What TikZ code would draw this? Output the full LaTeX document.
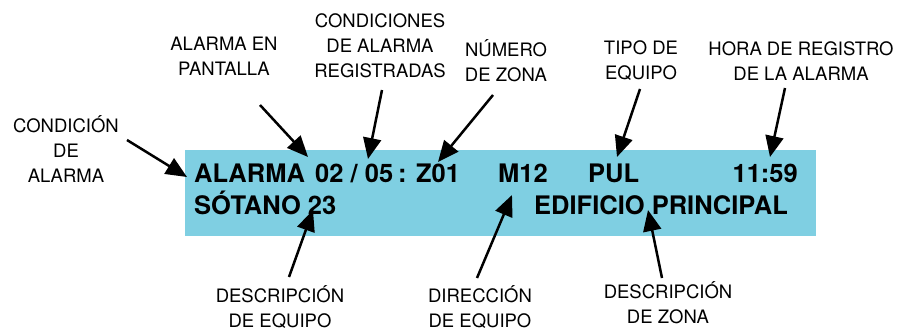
\documentclass[tikz,border=0pt]{standalone}
\usepackage{fontspec}
\setmainfont{TeX Gyre Heros}
\usetikzlibrary{arrows.meta}
\definecolor{lcdazul}{RGB}{127,207,226}
\tikzset{
  etiqueta/.style={align=center, inner sep=0pt, font=\fontsize{18.5}{25}\selectfont},
  lcd/.style={anchor=base west, inner sep=0pt, font=\fontsize{25.5}{30}\selectfont\bfseries},
  flecha/.style={-{Triangle[length=21pt,width=18pt]}, line width=2.5pt}
}
\begin{document}
\begin{tikzpicture}[x=1pt,y=-1pt]
\useasboundingbox (0,0) rectangle (915,332);
% pantalla
\node[fill=lcdazul, minimum width=631pt, minimum height=86pt, inner sep=0pt] (display) at (500.5,193) {};
\node[lcd] (alarma) at (194,182) {ALARMA};
\node[lcd] (contador) at (315,182) {02 / 05\kern5pt: Z01};
\node[lcd] (direccion) at (498,182) {M12};
\node[lcd] (tipo) at (588,182) {PUL};
\node[lcd, anchor=base east] (hora) at (798,182) {11:59};
\node[lcd] (sotano) at (194,214) {SÓTANO 23};
\node[lcd] (edificio) at (534,214) {EDIFICIO PRINCIPAL};
% etiquetas
\node[etiqueta] (lcondicion) at (66,149) {CONDICIÓN\\DE\\ALARMA};
\node[etiqueta] (lpantalla) at (224,56.5) {ALARMA EN\\PANTALLA};
\node[etiqueta] (lregistro) at (380,45.5) {CONDICIONES\\DE ALARMA\\REGISTRADAS};
\node[etiqueta] (lzona) at (506,61) {NÚMERO\\DE ZONA};
\node[etiqueta] (ltipo) at (641,61) {TIPO DE\\EQUIPO};
\node[etiqueta] (lhora) at (801,61) {HORA DE REGISTRO\\DE LA ALARMA};
\node[etiqueta] (ldesceq) at (280,307) {DESCRIPCIÓN\\DE EQUIPO};
\node[etiqueta] (ldireq) at (480,307) {DIRECCIÓN\\DE EQUIPO};
\node[etiqueta] (ldesczona) at (668,303) {DESCRIPCIÓN\\DE ZONA};
% flechas
\coordinate (c1) at (127,140); \coordinate (t1) at (187,177);
\coordinate (c2) at (260,105); \coordinate (t2) at (308,157);
\coordinate (c3) at (382,90);  \coordinate (t3) at (368,159);
\coordinate (c4) at (493,95);  \coordinate (t4) at (438,162);
\coordinate (c5) at (640,89);  \coordinate (t5) at (617,157);
\coordinate (c6) at (785,88);  \coordinate (t6) at (770,157);
\coordinate (c7) at (289,277); \coordinate (t7) at (313,210);
\coordinate (c8) at (477,278); \coordinate (t8) at (512,195);
\coordinate (c9) at (662,278); \coordinate (t9) at (648,210);
\foreach \i in {1,...,9}
{
\draw [flecha] (c\i) -- (t\i);
}
\end{tikzpicture}
\end{document}
